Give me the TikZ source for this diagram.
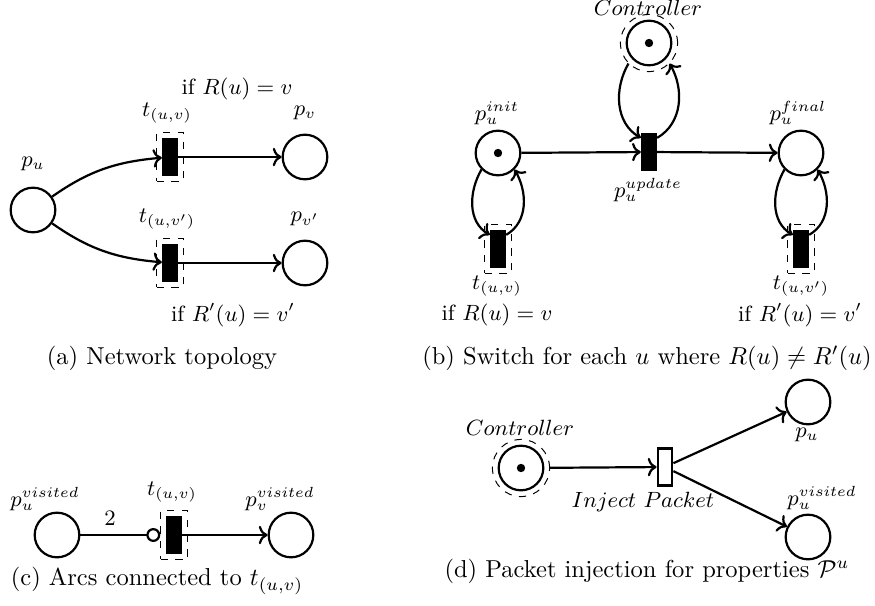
\documentclass[tikz,border=0pt]{standalone}
\usetikzlibrary{arrows.meta}

\tikzset{
  place/.style={circle, draw, line width=0.9pt, minimum size=6.4mm, inner sep=0pt},
  ctrlring/.style={circle, draw, thin, dashed, minimum size=8.2mm, inner sep=0pt},
  tokendot/.style={circle, fill=black, minimum size=1.2mm, inner sep=0pt},
  transition/.style={rectangle, fill=black, minimum width=2.2mm, minimum height=5.5mm, inner sep=0pt},
  emptytrans/.style={rectangle, draw, line width=0.9pt, fill=white, minimum width=2.1mm, minimum height=5.3mm, inner sep=0pt},
  guard/.style={rectangle, draw, thin, dashed, minimum width=3.8mm, minimum height=7mm, inner sep=0pt},
  arc/.style={->, line width=0.9pt},
  inhib/.style={-{Circle[open, length=2mm, width=2mm]}, line width=0.9pt},
  lbl/.style={font=\small}
}

\begin{document}
\begin{tikzpicture}[x=0.01435cm, y=0.01435cm]
        \useasboundingbox (0,0) rectangle (875,605);

        % (a) Network topology
        \node[place] (pu) at (33,395) {};
        \node[lbl] (pulbl) at (33,441) {$p_u$};
        \node[guard] (t1box) at (170,448) {};
        \node[transition] (t1) at (170,448) {};
        \node[lbl] (t1lbl) at (167,492) {$t_{(u,v)}$};
        \node[place] (pv) at (305,448) {};
        \node[lbl] (pvlbl) at (305,492) {$p_v$};
        \node[lbl] (ifa1) at (237,516) {if $R(u) = v$};
        \node[guard] (t2box) at (170,342) {};
        \node[transition] (t2) at (170,342) {};
        \node[lbl] (t2lbl) at (167,386) {$t_{(u,v')}$};
        \node[place] (pv2) at (305,342) {};
        \node[lbl] (pv2lbl) at (305,386) {$p_{v'}$};
        \node[lbl] (ifa2) at (233,290) {if $R'(u) = v'$};

        \draw[arc] (pu) to[out=35, in=185] (t1);
        \draw[arc] (pu) to[out=-35, in=175] (t2);
        \draw[arc] (t1) -- (pv);
        \draw[arc] (t2) -- (pv2);

        % (b) Switch for each u
        \node[ctrlring] (ctrl) at (649,562) {};
        \node[place] (ctrlin) at (649,562) {};
        \node[tokendot] (ctrltok) at (649,562) {};
        \node[lbl] (ctrllbl) at (648,597) {$Controller$};
        \node[transition] (upd) at (649,453) {};
        \node[lbl] (updlbl) at (648,415) {$p_u^{update}$};
        \node[place] (pinit) at (498,452) {};
        \node[tokendot] (pinittok) at (498,452) {};
        \node[lbl] (pinitlbl) at (497,492) {$p_u^{init}$};
        \node[place] (pfinal) at (801,452) {};
        \node[lbl] (pfinallbl) at (798,492) {$p_u^{final}$};
        \node[guard] (tb1box) at (498,356) {};
        \node[transition] (tb1) at (498,356) {};
        \node[lbl] (tb1lbl) at (497,319) {$t_{(u,v)}$};
        \node[lbl] (ifb1) at (497,290) {if $R(u) = v$};
        \node[guard] (tb2box) at (801,356) {};
        \node[transition] (tb2) at (801,356) {};
        \node[lbl] (tb2lbl) at (801,319) {$t_{(u,v')}$};
        \node[lbl] (ifb2) at (800,290) {if $R'(u) = v'$};

        \draw[arc] (pinit) -- (upd);
        \draw[arc] (upd) -- (pfinal);
        \draw[arc] (ctrl.225) to[out=240, in=150] (upd.120);
        \draw[arc] (upd.60) to[out=30, in=-60] (ctrl.-45);
        \draw[arc] (pinit.225) to[out=240, in=150] (tb1.120);
        \draw[arc] (tb1.60) to[out=30, in=-60] (pinit.-45);
        \draw[arc] (pfinal.225) to[out=240, in=150] (tb2.120);
        \draw[arc] (tb2.60) to[out=30, in=-60] (pfinal.-45);

        % (c) Arcs connected to t
        \node[place] (pcu) at (57,70) {};
        \node[lbl] (pculbl) at (45,106) {$p_u^{visited}$};
        \node[guard] (tcbox) at (174,70) {};
        \node[transition] (tc) at (174,70) {};
        \node[lbl] (tclbl) at (172,113) {$t_{(u,v)}$};
        \node[place] (pcv) at (291,70) {};
        \node[lbl] (pcvlbl) at (280,106) {$p_v^{visited}$};

        \draw[inhib] (pcu) -- (tcbox) node[lbl, pos=0.37, above] (weight) {2};
        \draw[arc] (tc) -- (pcv);

        % (d) Packet injection
        \node[ctrlring] (ctrld) at (521,137) {};
        \node[place] (ctrldin) at (521,137) {};
        \node[tokendot] (ctrldtok) at (521,137) {};
        \node[lbl] (ctrldlbl) at (520,177) {$Controller$};
        \node[emptytrans] (inj) at (665,138) {};
        \node[lbl] (injlbl) at (643,103) {$Inject\ Packet$};
        \node[place] (pdu) at (808,203) {};
        \node[lbl] (pdulbl) at (807,170) {$p_u$};
        \node[place] (pdv) at (808,68) {};
        \node[lbl] (pdvlbl) at (822,107) {$p_u^{visited}$};

        \draw[arc] (ctrld) -- (inj);
        \draw[arc] (inj) -- (pdu);
        \draw[arc] (inj) -- (pdv);

        % captions
        \node (capa) at (162,247) {(a) Network topology};
        \node (capb) at (647,247) {(b) Switch for each $u$ where $R(u) \neq R'(u)$};
        \node (capc) at (157,24) {(c) Arcs connected to $t_{(u,v)}$};
        \node (capd) at (647,34) {(d) Packet injection for properties $\mathcal{P}^u$};
\end{tikzpicture}
\end{document}
